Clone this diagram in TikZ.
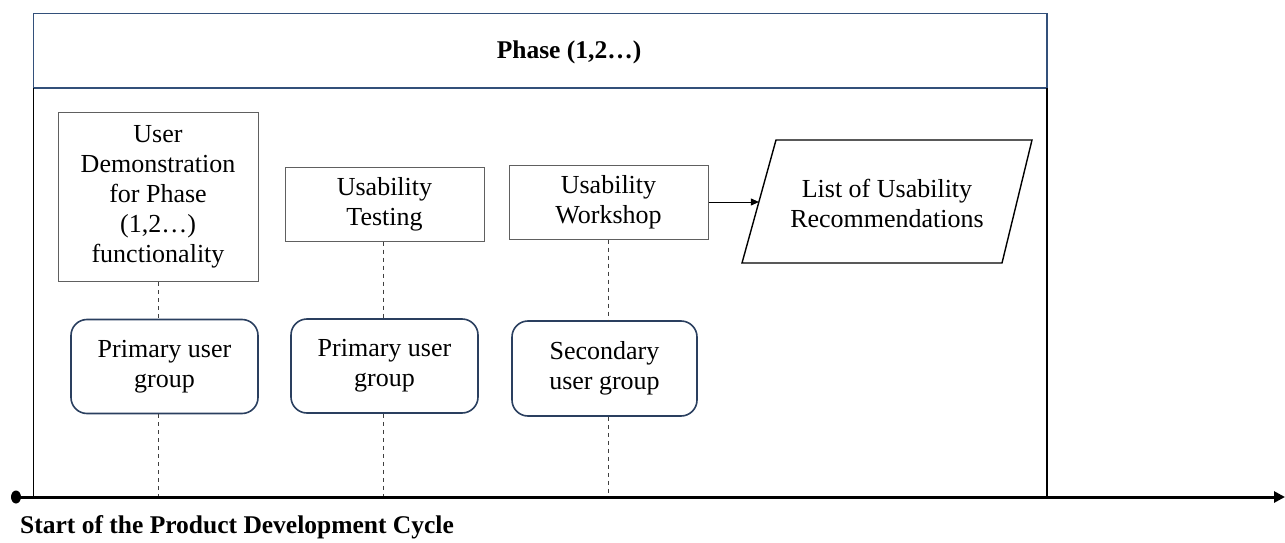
\documentclass[tikz,border=0pt]{standalone}
\usepackage{fontspec}
\setmainfont{Liberation Serif}
\usetikzlibrary{arrows.meta,shapes.geometric}
\definecolor{navy}{HTML}{33507A}
\definecolor{grpnavy}{HTML}{2A3F5F}
\definecolor{boxgray}{HTML}{606060}
\tikzset{
  txt/.style={font=\fontsize{26}{30}\selectfont, align=center},
  topbox/.style={txt, draw=boxgray, line width=1pt, inner sep=0pt},
  grpbox/.style={txt, draw=grpnavy, line width=1.6pt, rounded corners=16pt, inner sep=0pt},
  dashline/.style={draw=black!75, line width=0.8pt, dash pattern=on 4pt off 4pt},
}
\begin{document}
\begin{tikzpicture}[x=1pt,y=-1pt]
\useasboundingbox (0,0) rectangle (1285,543);
% phase frame
\coordinate (fTL) at (33.5,13.5);
\coordinate (fBL) at (33.5,497);
\coordinate (fBR) at (1047,497);
\draw[navy, line width=1.8pt] (fTL) rectangle (1047,88.3);
\draw[black, line width=1.6pt] (33.5,88.3) -- (fBL);
\draw[black, line width=1.6pt] (1047,88.3) -- (fBR);
\node[txt, font=\fontsize{25.5}{30}\selectfont\bfseries] (phase) at (569,52) {Phase (1,2…)};
% top boxes
\node[topbox, minimum width=200pt, minimum height=169pt] (b1) at (158,197.2) {User\\Demonstration\\for Phase\\(1,2…)\\functionality};
\node[topbox, minimum width=199pt, minimum height=74pt] (b2) at (384.5,204) {Usability\\Testing};
\node[topbox, minimum width=199pt, minimum height=74pt] (b3) at (608.5,202) {Usability\\Workshop};
% output parallelogram
\coordinate (pTL) at (776,140);
\coordinate (pTR) at (1032,140);
\coordinate (pBR) at (1002,263);
\coordinate (pBL) at (742,263);
\coordinate (pIn) at (758.9,202);
\draw[black, line width=1.4pt, line join=miter] (pTL) -- (pTR) -- (pBR) -- (pBL) -- cycle;
\node[txt] (par) at (887,203) {List of Usability\\Recommendations};
% group boxes
\node[grpbox, minimum width=187pt, minimum height=94pt] (g1) at (164.5,366.5) {Primary user\\group};
\node[grpbox, minimum width=187pt, minimum height=94pt] (g2) at (384.5,366) {Primary user\\group};
\node[grpbox, minimum width=185pt, minimum height=95pt] (g3) at (604.5,368.5) {Secondary\\user group};
% axis
\node[ellipse, fill=black, inner sep=0pt, minimum width=10pt, minimum height=13pt] (start) at (16,497) {};
\coordinate (axend) at (1285,497);
\node[anchor=base west, font=\fontsize{25.5}{30}\selectfont\bfseries, inner sep=0pt] (startlbl) at (20,533) {Start of the Product Development Cycle};
% dashed links
\coordinate (a1) at (158,497);
\coordinate (a2) at (383,497);
\coordinate (a3) at (608,497);
\draw[dashline] (b1.south) -- (b1.south |- g1.north);
\draw[dashline] (b1.south |- g1.south) -- (a1);
\draw[dashline] (b2.south -| a2) -- (a2 |- g2.north);
\draw[dashline] (a2 |- g2.south) -- (a2);
\draw[dashline] (b3.south -| a3) -- (a3 |- g3.north);
\draw[dashline] (a3 |- g3.south) -- (a3);
\draw[line width=3pt, -{Triangle[length=11pt,width=11pt]}] (start.center) -- (axend);
\draw[line width=0.9pt, -{Triangle[length=8pt,width=7pt]}] (b3.east) -- (pIn);
\end{tikzpicture}
\end{document}
